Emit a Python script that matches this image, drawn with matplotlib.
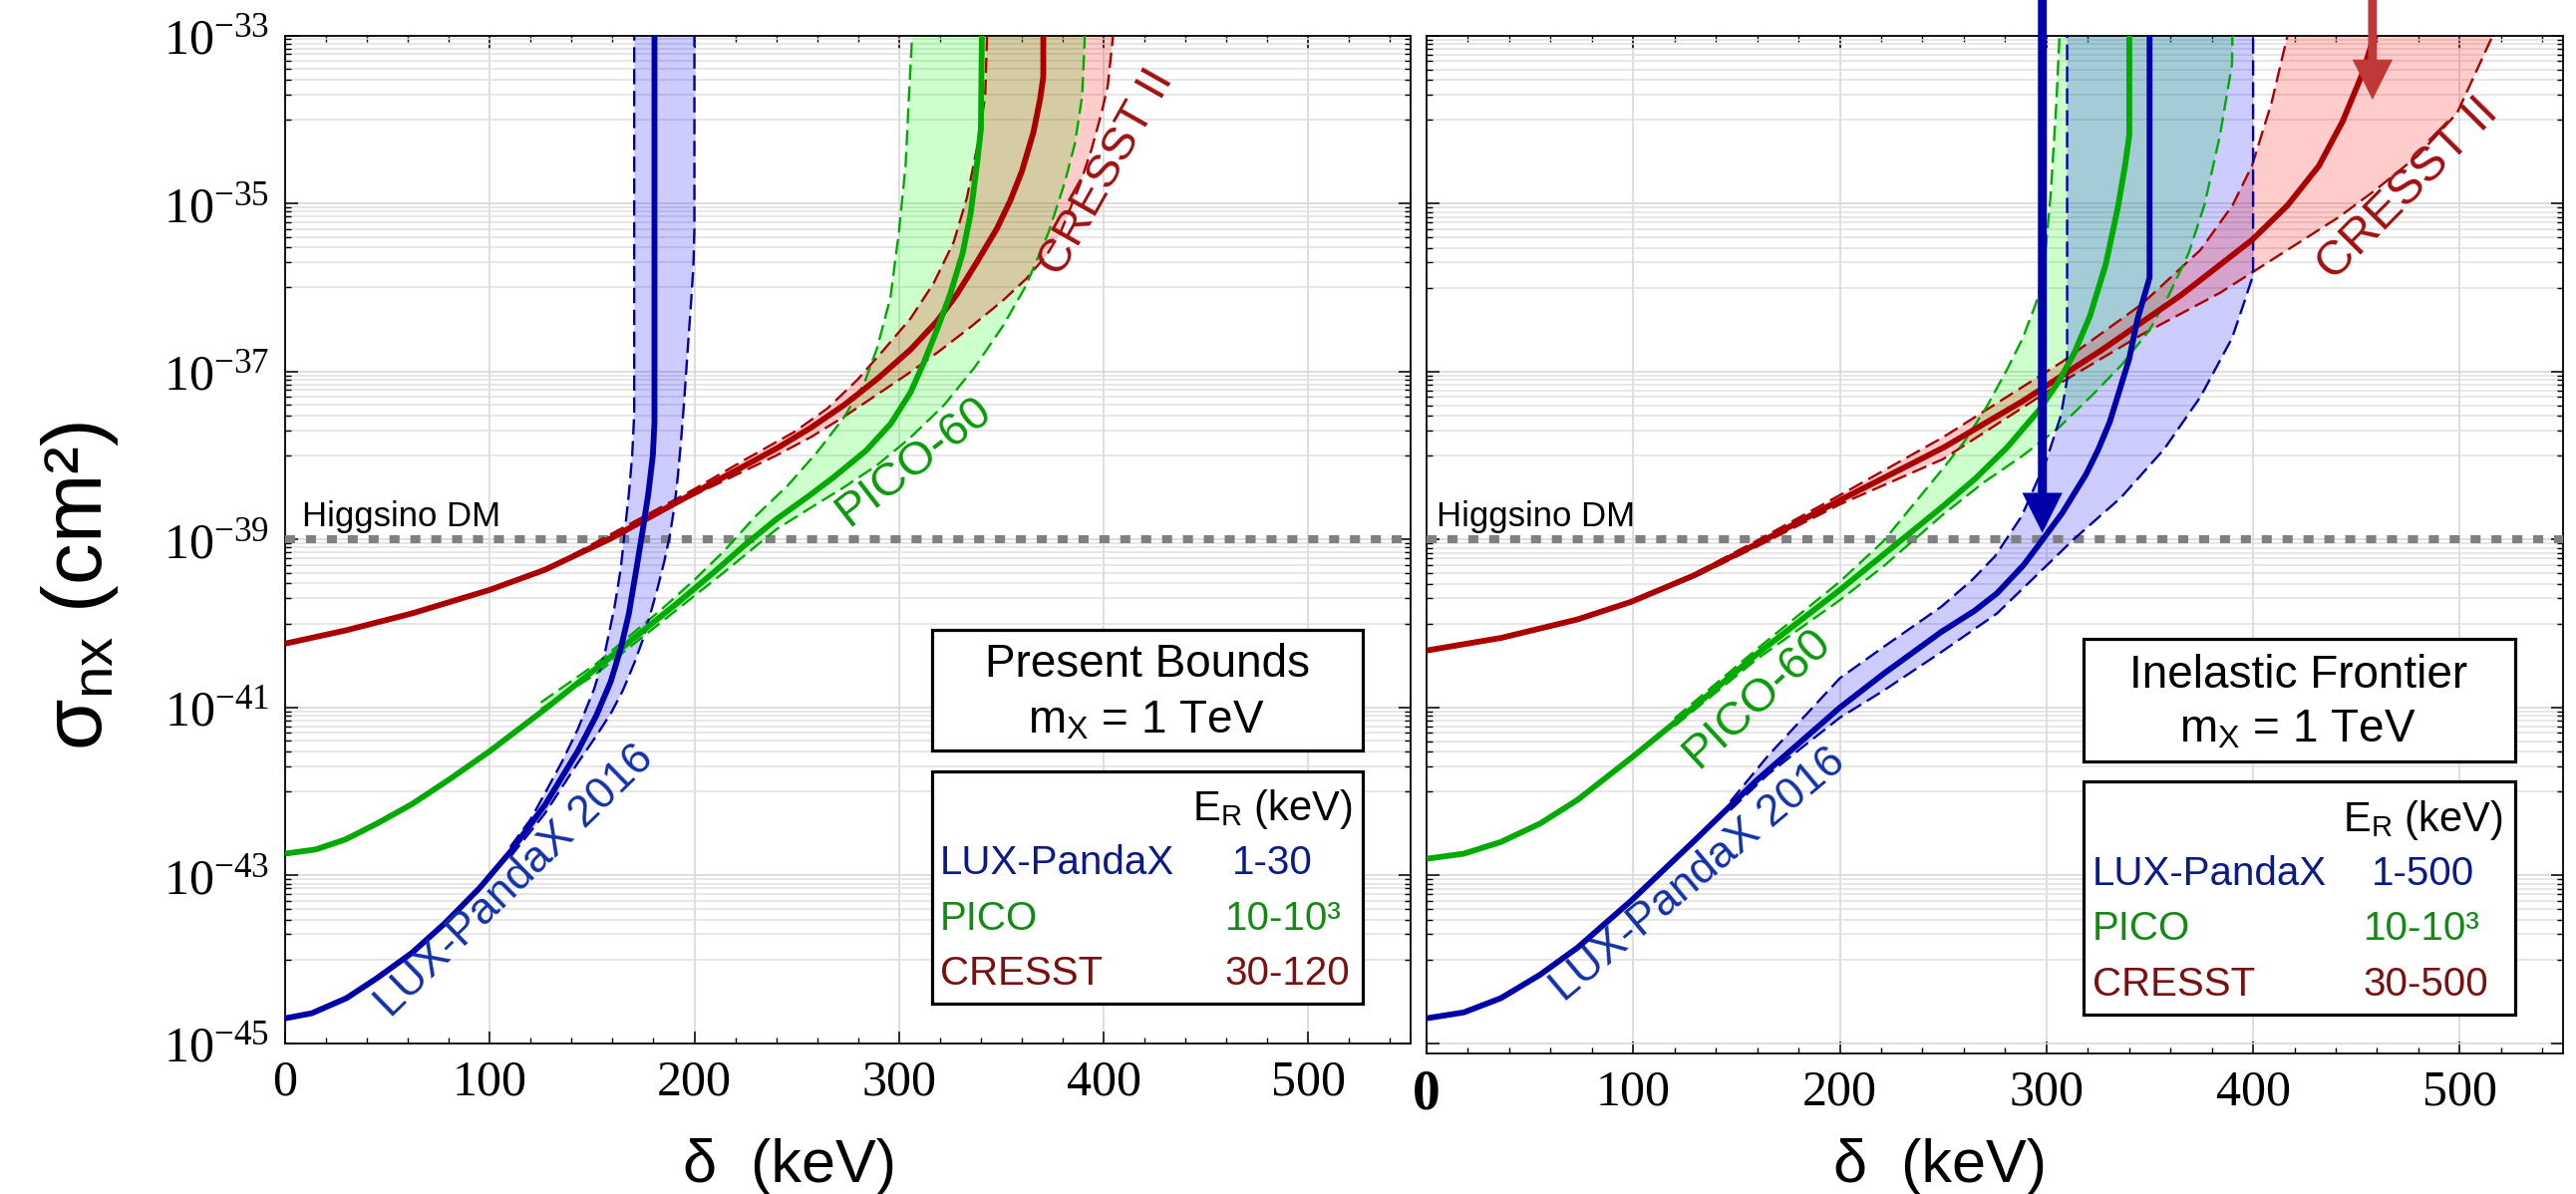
import numpy as np
import matplotlib
matplotlib.use('Agg')
import matplotlib.pyplot as plt
from matplotlib.patches import Rectangle
from matplotlib.ticker import FixedLocator, FixedFormatter, NullFormatter

plt.rcParams['font.family'] = ['Liberation Sans', 'DejaVu Sans']
plt.rcParams['mathtext.fontset'] = 'custom'
plt.rcParams['mathtext.rm'] = 'Liberation Serif'
plt.rcParams['mathtext.it'] = 'Liberation Serif:italic'
plt.rcParams['mathtext.bf'] = 'Liberation Serif:bold'
plt.rcParams['mathtext.sf'] = 'Liberation Sans'

# ---------------- data (delta in keV, log10 of sigma in cm^2) ----------------
# Left panel: Present Bounds
lux_L_x = [0, 13, 30, 45, 62, 78, 95, 110, 127, 143, 152, 159, 164, 168, 172, 175, 177.5, 179.7, 180.5, 180.5]
lux_L_y = [-44.70, -44.64, -44.46, -44.22, -43.92, -43.57, -43.15, -42.72, -42.16, -41.52, -41.10, -40.70,
           -40.30, -39.88, -39.30, -38.85, -38.45, -38.00, -37.60, -33.0]
lux_L_up_x = [110, 120, 127, 135, 143, 151, 156, 161, 164, 166, 168, 169.6, 170.6, 170.6]
lux_L_up_y = [-42.66, -42.33, -42.02, -41.66, -41.26, -40.78, -40.38, -39.80, -39.35, -38.90, -38.45, -38.00,
              -37.50, -33.0]
lux_L_dn_x = [110, 127, 143, 152, 159.4, 165, 170.8, 175, 178.9, 182, 185.4, 188, 190.3, 191.9, 193.4, 195,
              196.7, 198.3, 199.5, 200, 200]
lux_L_dn_y = [-42.78, -42.26, -41.66, -41.34, -41.06, -40.80, -40.46, -40.18, -39.85, -39.58, -39.25, -38.95,
              -38.60, -38.25, -37.85, -37.35, -36.75, -36.20, -35.76, -35.30, -33.0]

pico_L_x = [0, 15, 29.6, 45, 62, 80, 100, 127, 159, 192, 210, 224, 240, 256, 268, 284, 296, 305.6, 312, 318.6,
            325, 331, 335, 338, 340, 340.5]
pico_L_y = [-42.74, -42.69, -42.57, -42.38, -42.15, -41.86, -41.52, -41.02, -40.40, -39.75, -39.38, -39.08,
            -38.76, -38.48, -38.26, -37.94, -37.62, -37.25, -36.90, -36.50, -36.08, -35.60, -35.12, -34.55,
            -34.12, -33.0]
pico_L_up_x = [125, 152, 184, 200, 214, 230, 245.5, 260, 273, 283, 289.3, 295.8, 299.9, 303.2, 304.8, 306.4]
pico_L_up_y = [-40.94, -40.48, -39.83, -39.48, -39.15, -38.72, -38.36, -37.96, -37.55, -37.14, -36.72, -36.12,
               -35.35, -34.55, -33.75, -33.0]
pico_L_dn_x = [125, 152, 184, 214, 240, 257, 273, 289, 305, 322, 337, 351, 362, 373, 381, 386, 389.5, 390.8]
pico_L_dn_y = [-41.02, -40.60, -39.98, -39.40, -38.88, -38.62, -38.38, -38.12, -37.80, -37.40, -36.95, -36.45,
               -35.98, -35.35, -34.75, -34.28, -33.72, -33.0]

cresst_L_x = [0, 30, 62, 100, 127, 159, 192, 224, 240.6, 256.9, 273.1, 289.3, 305.6, 318.6, 328.3, 338, 347.8,
              354.3, 360, 365.7, 369, 370.5, 370.5]
cresst_L_y = [-40.24, -40.08, -39.88, -39.60, -39.36, -38.99, -38.55, -38.13, -37.91, -37.67, -37.40, -37.09,
              -36.74, -36.40, -36.08, -35.70, -35.30, -34.97, -34.62, -34.15, -33.75, -33.49, -33.0]
cresst_L_up_x = [140, 200, 224, 240, 248.8, 265, 279.6, 292.6, 305.6, 316.9, 326.7, 333.2, 338, 342.1, 343]
cresst_L_up_y = [-39.19, -38.40, -38.06, -37.84, -37.72, -37.44, -37.10, -36.74, -36.37, -35.95, -35.46, -34.93,
                 -34.35, -33.72, -33.0]
cresst_L_dn_x = [140, 200, 240, 257, 273, 289, 306, 319, 335, 351, 362, 372, 379, 388, 394, 399, 402, 404.6]
cresst_L_dn_y = [-39.22, -38.47, -38.00, -37.78, -37.54, -37.28, -37.00, -36.77, -36.47, -36.15, -35.90, -35.62,
                 -35.34, -34.80, -34.36, -33.92, -33.60, -33.0]

# Right panel: Inelastic Frontier
lux_R_x = [0, 18, 36, 55, 73, 99, 129, 160, 200, 221, 249, 265, 276, 289, 296.3, 307.7, 319.2, 325, 330.6, 335,
           340, 344, 349.9, 349.9]
lux_R_y = [-44.70, -44.63, -44.46, -44.18, -43.86, -43.30, -42.60, -41.86, -41.00, -40.60, -40.10, -39.85,
           -39.64, -39.30, -39.06, -38.68, -38.22, -37.93, -37.60, -37.25, -36.85, -36.38, -35.88, -33.0]
lux_R_up_x = [147, 165, 200, 221, 249, 264, 275, 288, 300, 307, 310, 310]
lux_R_up_y = [-42.12, -41.58, -40.65, -40.28, -39.80, -39.48, -39.20, -38.72, -38.05, -37.52, -37.09, -33.0]
lux_R_dn_x = [147, 165, 200, 221, 249, 276, 292, 313, 336, 357, 374.5, 389.8, 395.6, 400, 400]
lux_R_dn_y = [-42.22, -41.80, -41.12, -40.80, -40.34, -39.88, -39.50, -39.00, -38.50, -37.92, -37.30, -36.60,
              -36.18, -35.85, -33.0]

pico_R_x = [0, 18, 36, 55, 73, 99, 129, 160, 200, 221, 250, 265.7, 281, 296.3, 305.8, 313.4, 321, 328.7, 334.5,
            338, 340.1, 340.1]
pico_R_y = [-42.80, -42.74, -42.60, -42.38, -42.10, -41.60, -41.00, -40.36, -39.60, -39.18, -38.60, -38.27,
            -37.90, -37.46, -37.12, -36.78, -36.34, -35.72, -35.05, -34.55, -34.18, -33.0]
pico_R_up_x = [120, 160, 200, 221, 250, 260, 271, 281, 288.5, 295, 298.5, 302, 304.8, 306.3]
pico_R_up_y = [-41.13, -40.30, -39.50, -39.02, -38.15, -37.84, -37.42, -36.97, -36.60, -36.18, -35.84, -34.90,
               -33.80, -33.0]
pico_R_dn_x = [120, 160, 200, 221, 250, 269.5, 288.5, 305.8, 322.9, 336.3, 349.7, 359.2, 368.8, 376.5, 384,
               389.8, 390]
pico_R_dn_y = [-41.22, -40.42, -39.72, -39.32, -38.70, -38.32, -38.00, -37.67, -37.26, -36.92, -36.51, -36.09,
               -35.59, -35.01, -34.18, -33.34, -33.0]

cresst_R_x = [0, 36, 73, 99, 129, 160, 200, 240, 250.4, 288.5, 326.8, 365, 399.5, 416.6, 431.8, 443.3, 452.9,
              458.6]
cresst_R_y = [-40.32, -40.17, -39.95, -39.74, -39.43, -39.05, -38.53, -38.03, -37.90, -37.35, -36.74, -36.09,
              -35.43, -35.02, -34.55, -34.02, -33.45, -33.0]
cresst_R_up_x = [130, 160, 200, 250, 307.7, 345.9, 374.5, 390, 399.4, 408.9, 416.6]
cresst_R_up_y = [-39.40, -39.01, -38.47, -37.78, -36.88, -36.20, -35.55, -35.02, -34.55, -33.80, -33.0]
cresst_R_dn_x = [130, 160, 200, 250, 307.7, 345.9, 384, 403.2, 441.4, 459, 479.6, 498.7, 515.9]
cresst_R_dn_y = [-39.44, -39.08, -38.58, -38.04, -37.12, -36.56, -36.06, -35.76, -35.16, -34.84, -34.43, -33.92,
                 -33.0]

# arrows in the right panel (delta, log10 sigma of tip)
arrow_blue = (298.0, -38.92)
arrow_red = (457.8, -33.76)

higgsino_level = 1e-39

x_ticks = [0, 100, 200, 300, 400, 500]
x_tick_labels = ['0', '100', '200', '300', '400', '500']
y_exponents = [-33, -35, -37, -39, -41, -43, -45]

legend_left = [('LUX-PandaX', '1-30'), ('PICO', '10-10³'), ('CRESST', '30-120')]
legend_right = [('LUX-PandaX', '1-500'), ('PICO', '10-10³'), ('CRESST', '30-500')]

# ---------------- styling ----------------
W, H = 2584, 1198
fig = plt.figure(figsize=(W / 100, H / 100), dpi=100)


def fx(px):
    return px / W


def fy(py):
    return 1 - py / H


C_BLUE = '#0000aa'
C_GREEN = '#00aa00'
C_RED = '#aa0000'
LBL_BLUE = '#1230a8'
LBL_GREEN = '#0a9a0a'
LBL_RED = '#a01010'
TXT_BLUE = '#0a1a8a'
TXT_GREEN = '#138a13'
TXT_RED = '#7a1010'

axL = fig.add_axes([fx(286), fy(1047), fx(1415) - fx(286), (1047 - 35.6) / H])
axR = fig.add_axes([fx(1431), fy(1057), fx(2571) - fx(1431), (1057 - 36) / H])


def style(ax, ylo, labels):
    ax.set_yscale('log')
    ax.set_xlim(0, 550)
    ax.set_ylim(10 ** ylo, 1e-33)
    ax.set_axisbelow(True)
    ax.xaxis.set_major_locator(FixedLocator(x_ticks))
    ax.xaxis.set_minor_locator(FixedLocator(list(range(0, 551, 20))))
    ax.set_xticklabels(x_tick_labels, fontfamily='Liberation Serif', fontsize=36)
    ax.yaxis.set_major_locator(FixedLocator([10.0 ** e for e in y_exponents]))
    minors = []
    for e in [-34, -36, -38, -40, -42, -44]:
        for k in range(1, 10):
            minors.append(k * 10.0 ** e)
    ax.yaxis.set_minor_locator(FixedLocator(minors))
    ax.yaxis.set_minor_formatter(NullFormatter())
    if labels:
        ax.yaxis.set_major_formatter(FixedFormatter([r'$10^{%d}$' % e for e in y_exponents]))
    else:
        ax.yaxis.set_major_formatter(NullFormatter())
    ax.tick_params(axis='both', which='major', direction='in', top=True, right=True,
                   length=9, width=1.1, labelsize=36, pad=11.5, colors='black')
    ax.tick_params(axis='both', which='minor', direction='in', top=True, right=True,
                   length=4.5, width=1.0)
    ax.grid(which='major', axis='both', color='#d8d8d8', lw=1.2)
    ax.grid(which='minor', axis='y', color='#e0e0e0', lw=1.1)
    for s in ax.spines.values():
        s.set_linewidth(1.3)
        s.set_color('black')


style(axL, -45, True)
style(axR, -45.119, False)
# the reference's right-panel "0" is drawn larger and heavier
_zero = axR.get_xticklabels()[0]
_zero.set_fontsize(40)
_zero.set_fontweight('bold')


def band(ax, ux, uy, dx, dy, color, z):
    xs = list(ux) + list(dx)[::-1]
    ys = [10 ** v for v in list(uy) + list(dy)[::-1]]
    ax.fill(xs, ys, color=color, alpha=0.2, lw=0, zorder=z)


def curves(ax, sx, sy, ux, uy, dx, dy, color):
    ax.plot(ux, [10 ** v for v in uy], color=color, lw=1.7, dashes=(6.5, 2.8), zorder=5)
    ax.plot(dx, [10 ** v for v in dy], color=color, lw=1.7, dashes=(6.5, 2.8), zorder=5)
    ax.plot(sx, [10 ** v for v in sy], color=color, lw=4.2, zorder=6, solid_capstyle='butt',
            solid_joinstyle='round')


for ax, d in [(axL, dict(lux=(lux_L_x, lux_L_y, lux_L_up_x, lux_L_up_y, lux_L_dn_x, lux_L_dn_y),
                         pico=(pico_L_x, pico_L_y, pico_L_up_x, pico_L_up_y, pico_L_dn_x, pico_L_dn_y),
                         cresst=(cresst_L_x, cresst_L_y, cresst_L_up_x, cresst_L_up_y, cresst_L_dn_x, cresst_L_dn_y))),
              (axR, dict(lux=(lux_R_x, lux_R_y, lux_R_up_x, lux_R_up_y, lux_R_dn_x, lux_R_dn_y),
                         pico=(pico_R_x, pico_R_y, pico_R_up_x, pico_R_up_y, pico_R_dn_x, pico_R_dn_y),
                         cresst=(cresst_R_x, cresst_R_y, cresst_R_up_x, cresst_R_up_y, cresst_R_dn_x, cresst_R_dn_y)))]:
    band(ax, *d['pico'][2:], color=(0, 1, 0), z=2)
    band(ax, *d['lux'][2:], color=(0, 0, 1), z=2.1)
    band(ax, *d['cresst'][2:], color=(1, 0, 0), z=2.2)
    ax.axhline(higgsino_level, color='#808080', lw=5.8, dashes=(1.25, 1.35), zorder=4)
    curves(ax, *d['cresst'], color=C_RED)
    curves(ax, *d['pico'], color=C_GREEN)
    curves(ax, *d['lux'], color=C_BLUE)

# arrows
for (ax_x, tip), col in [(arrow_blue, C_BLUE), (arrow_red, '#c03838')]:
    axR.annotate('', xy=(ax_x, 10 ** tip), xytext=(ax_x, 10 ** -32.55), xycoords='data',
                 arrowprops=dict(arrowstyle='simple,head_length=1.45,head_width=1.45,tail_width=0.32',
                                 mutation_scale=20, fc=col, ec='none', shrinkA=0, shrinkB=0,
                                 clip_on=False),
                 annotation_clip=False, zorder=8)

# on-curve labels
axL.text(112.3, 10 ** -43.07, 'LUX-PandaX 2016', rotation=44.3, rotation_mode='anchor', ha='center',
         va='center', color=LBL_BLUE, fontsize=32, zorder=7)
axL.text(307.2, 10 ** -38.07, 'PICO-60', rotation=37.7, rotation_mode='anchor', ha='center',
         va='center', color=LBL_GREEN, fontsize=34, zorder=7)
axL.text(401.4, 10 ** -34.63, 'CRESST II', rotation=60.5, rotation_mode='anchor', ha='center',
         va='center', color=LBL_RED, fontsize=34, zorder=7)
axR.text(131.5, 10 ** -43.00, 'LUX-PandaX 2016', rotation=40.0, rotation_mode='anchor', ha='center',
         va='center', color=LBL_BLUE, fontsize=32, zorder=7)
axR.text(159.7, 10 ** -40.89, 'PICO-60', rotation=42.8, rotation_mode='anchor', ha='center',
         va='center', color=LBL_GREEN, fontsize=34, zorder=7)
axR.text(474.7, 10 ** -34.83, 'CRESST II', rotation=45.3, rotation_mode='anchor', ha='center',
         va='center', color=LBL_RED, fontsize=35, zorder=7)

# Higgsino labels
fig.text(fx(303), fy(528), 'Higgsino DM', fontsize=25, ha='left', va='baseline', color='black')
fig.text(fx(1441), fy(528), 'Higgsino DM', fontsize=25, ha='left', va='baseline', color='black')

# axis labels
fig.text(fx(80), fy(588), r'σ$_\mathsf{nx}$ (cm²)', rotation=90, ha='center', va='center', fontsize=60)
fig.text(fx(792), fy(1142), 'δ  (keV)', ha='center', va='top', fontsize=44)
fig.text(fx(1946), fy(1142), 'δ  (keV)', ha='center', va='top', fontsize=44)


# legend boxes
def box(x0, y0, x1, y1):
    fig.add_artist(Rectangle((fx(x0), fy(y1)), fx(x1) - fx(x0), (y1 - y0) / H, transform=fig.transFigure,
                             fc='white', ec='black', lw=2.3, zorder=10))


box(935, 632, 1367, 753)
box(935, 774, 1367, 1007)
box(2090, 641, 2523, 764)
box(2090, 784, 2523, 1018)

fig.text(fx(1151), fy(667), 'Present Bounds', ha='center', va='center', fontsize=33, zorder=11)
fig.text(fx(1150), fy(724), r'm$_\mathsf{X}$ = 1 TeV', ha='center', va='center', fontsize=33, zorder=11)
fig.text(fx(2306), fy(678), 'Inelastic Frontier', ha='center', va='center', fontsize=33, zorder=11)
fig.text(fx(2305), fy(733), r'm$_\mathsf{X}$ = 1 TeV', ha='center', va='center', fontsize=33, zorder=11)

fig.text(fx(1356), fy(812), r'E$_\mathsf{R}$ (keV)', ha='right', va='center', fontsize=30, zorder=11)
fig.text(fx(2510), fy(823), r'E$_\mathsf{R}$ (keV)', ha='right', va='center', fontsize=30, zorder=11)

cols = [TXT_BLUE, TXT_GREEN, TXT_RED]
for i, (name, rng) in enumerate(legend_left):
    yy = [866, 922, 977][i]
    fig.text(fx(943), fy(yy), name, ha='left', va='center', fontsize=29, color=cols[i], zorder=11)
    fig.text(fx([1276, 1287, 1291][i]), fy(yy), rng, ha='center', va='center', fontsize=29, color=cols[i],
             zorder=11)
for i, (name, rng) in enumerate(legend_right):
    yy = [877, 932, 988][i]
    fig.text(fx(2099), fy(yy), name, ha='left', va='center', fontsize=29, color=cols[i], zorder=11)
    fig.text(fx([2431, 2429, 2433][i]), fy(yy), rng, ha='center', va='center', fontsize=29, color=cols[i],
             zorder=11)

fig.savefig('out.png', dpi=100, facecolor='white')
